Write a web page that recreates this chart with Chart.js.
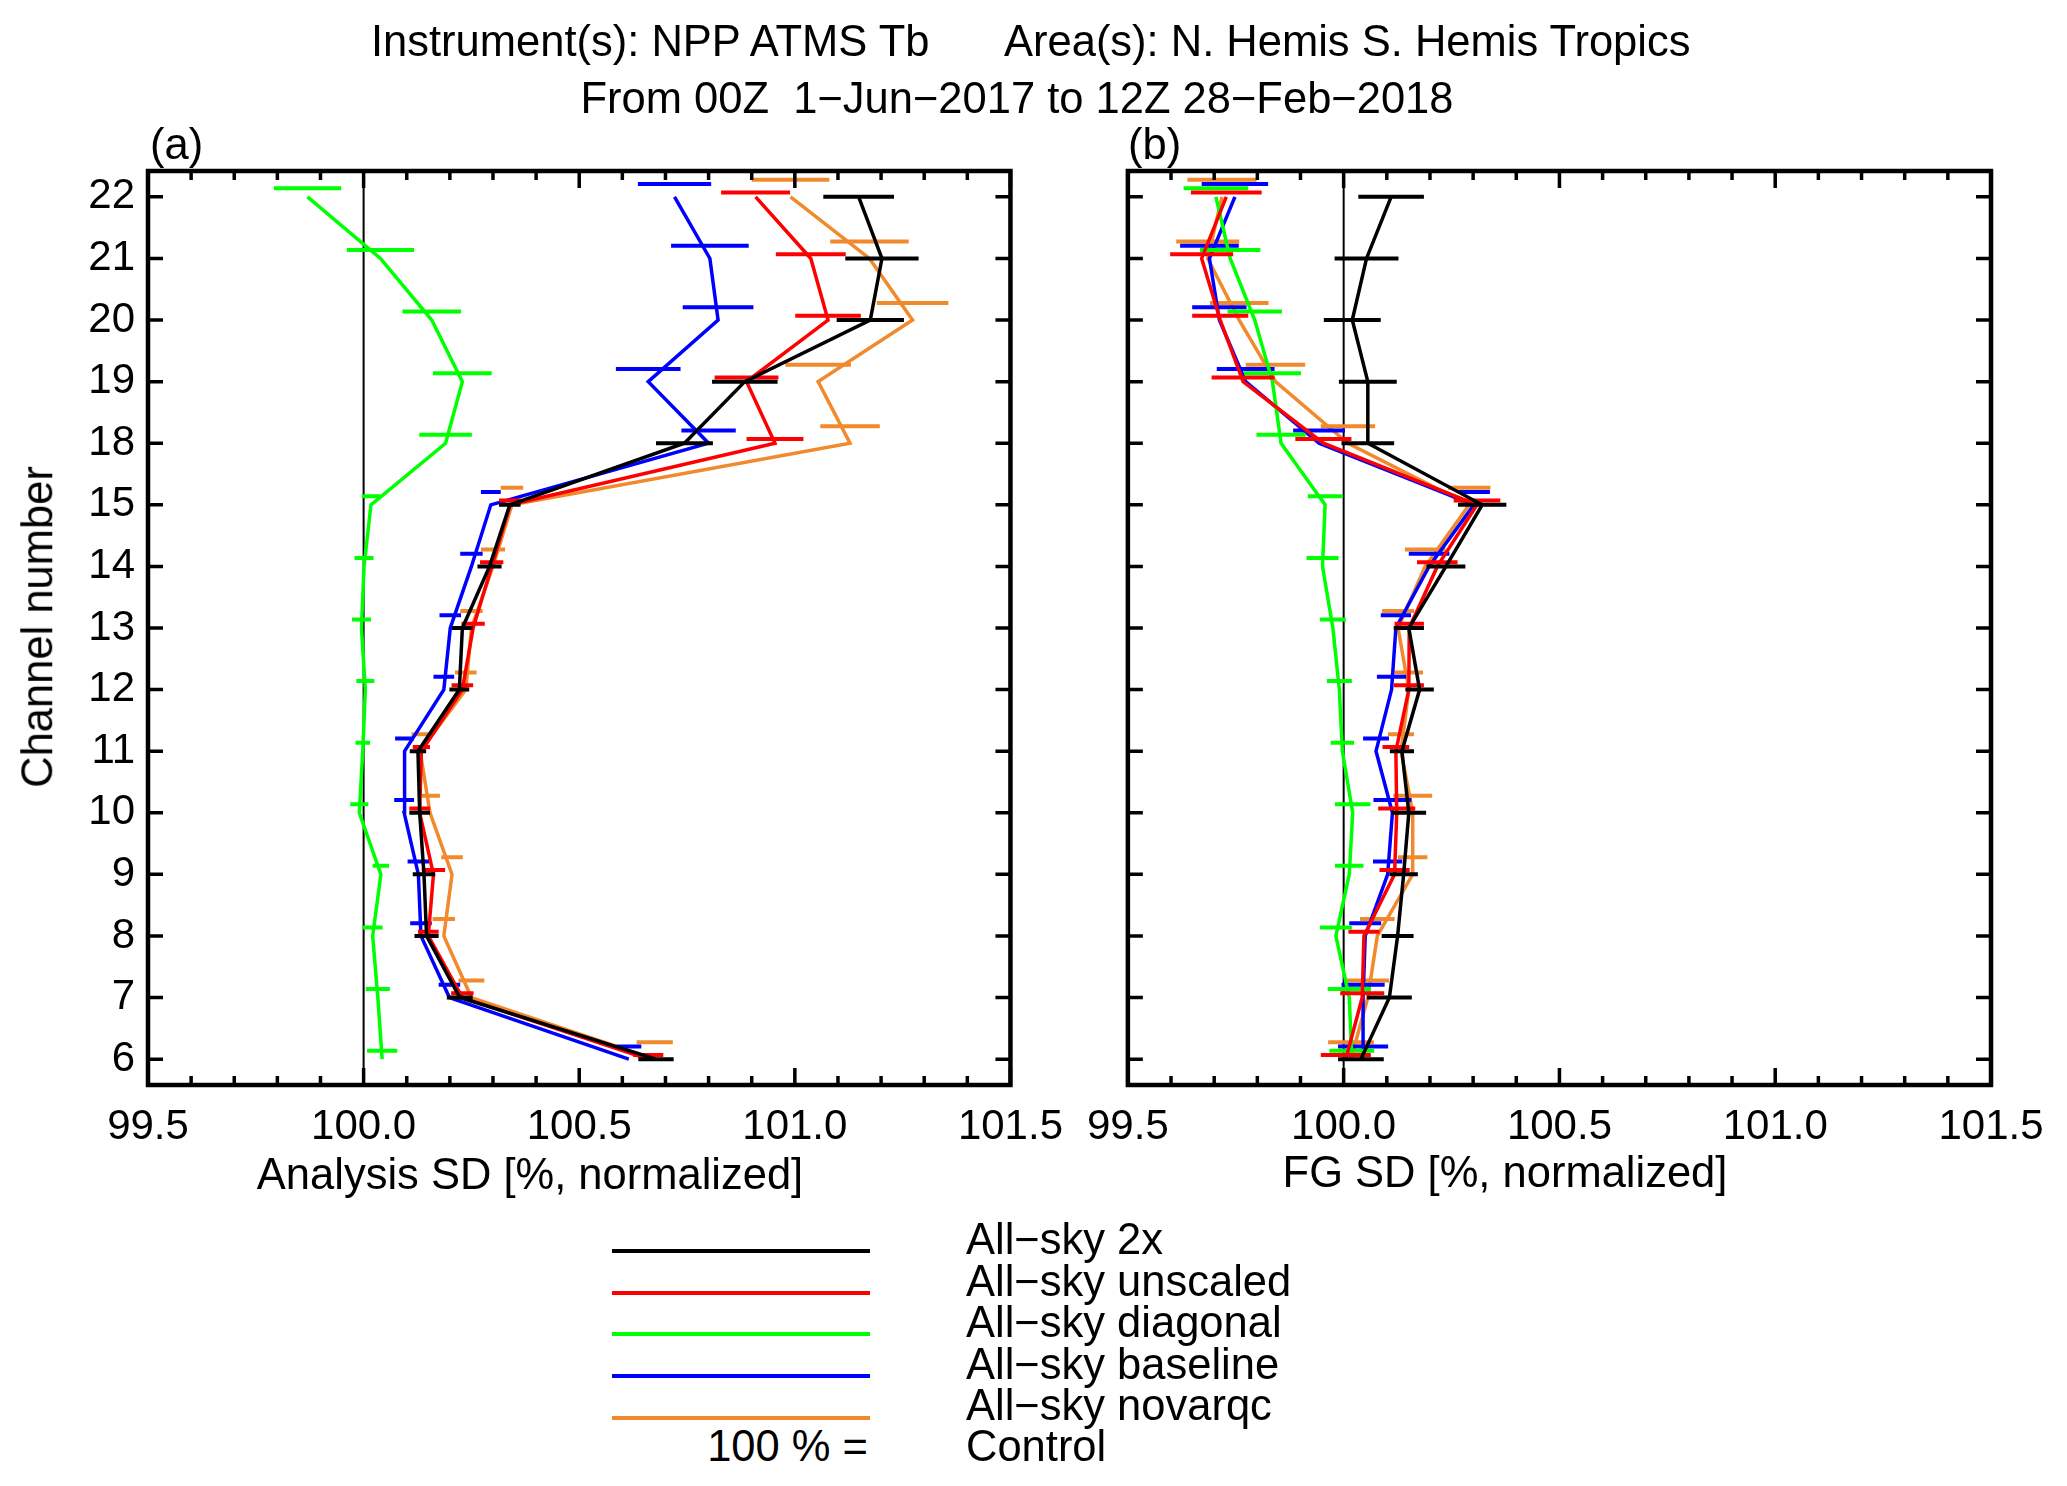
<!DOCTYPE html>
<html>
<head>
<meta charset="utf-8">
<script src="https://cdn.jsdelivr.net/npm/chart.js@4.4.1/dist/chart.umd.min.js"></script>
<style>
  body { margin: 0; background: #fff; width: 2067px; height: 1486px; position: relative; overflow: hidden;
         font-family: "Liberation Sans", Arial, sans-serif; }
  canvas { position: absolute; top: 0; }
  .t { position: absolute; font-size: 43.5px; color: #000; white-space: pre; line-height: 1; }
  .ln { position: absolute; height: 4px; }
</style>
</head>
<body>
<canvas id="pa" width="1080" height="1230" style="left:0px"></canvas>
<canvas id="pb" width="997" height="1230" style="left:1070px"></canvas>
<script>
// channels on the y axis (equally spaced)
const channels = ['6', '7', '8', '9', '10', '11', '12', '13', '14', '15', '18', '19', '20', '21', '22'];

// legend / series
const names = ['All\u2212sky 2x', 'All\u2212sky unscaled', 'All\u2212sky diagonal', 'All\u2212sky baseline', 'All\u2212sky novarqc'];
const colors = ['#000000', '#ff0000', '#00ff00', '#0000ff', '#f08a2c'];

// (a) Analysis SD, channels 6..22
const ana2x       = [100.678, 100.223, 100.146, 100.140, 100.130, 100.126, 100.222, 100.229, 100.292, 100.339, 100.744, 100.884, 101.175, 101.202, 101.148];
const ana2xErr    = [0.041, 0.030, 0.028, 0.026, 0.024, 0.019, 0.023, 0.024, 0.028, 0.025, 0.066, 0.076, 0.078, 0.085, 0.082];
const anaUnsc     = [100.660, 100.229, 100.150, 100.162, 100.130, 100.134, 100.229, 100.254, 100.297, 100.340, 100.954, 100.888, 101.077, 101.037, 100.909];
const anaUnscErr  = [0.035, 0.026, 0.024, 0.027, 0.024, 0.020, 0.025, 0.027, 0.027, 0.026, 0.066, 0.074, 0.076, 0.081, 0.080];
const anaDiag     = [100.043, 100.033, 100.021, 100.040, 99.990, 99.998, 100.004, 99.995, 100.001, 100.017, 100.190, 100.229, 100.158, 100.039, 99.870];
const anaDiagErr  = [0.035, 0.028, 0.023, 0.019, 0.021, 0.017, 0.021, 0.022, 0.022, 0.021, 0.061, 0.068, 0.068, 0.078, 0.078];
const anaBase     = [100.615, 100.199, 100.133, 100.127, 100.094, 100.095, 100.186, 100.201, 100.250, 100.295, 100.800, 100.660, 100.822, 100.803, 100.721];
const anaBaseErr  = [0.029, 0.025, 0.025, 0.025, 0.023, 0.022, 0.024, 0.025, 0.026, 0.023, 0.063, 0.075, 0.082, 0.090, 0.085];
const anaNoqc     = [100.675, 100.250, 100.186, 100.205, 100.154, 100.131, 100.237, 100.250, 100.300, 100.344, 101.128, 101.054, 101.273, 101.173, 100.990];
const anaNoqcErr  = [0.042, 0.030, 0.026, 0.025, 0.023, 0.020, 0.025, 0.026, 0.028, 0.026, 0.069, 0.076, 0.083, 0.091, 0.090];

// (b) FG SD, channels 6..22
const fg2x        = [100.040, 100.106, 100.125, 100.139, 100.151, 100.135, 100.176, 100.151, 100.237, 100.321, 100.056, 100.056, 100.020, 100.053, 100.110];
const fg2xErr     = [0.053, 0.052, 0.037, 0.033, 0.040, 0.028, 0.033, 0.035, 0.045, 0.056, 0.061, 0.067, 0.066, 0.074, 0.076];
const fgUnsc      = [100.005, 100.043, 100.047, 100.118, 100.123, 100.121, 100.151, 100.152, 100.217, 100.309, 99.953, 99.767, 99.714, 99.671, 99.728];
const fgUnscErr   = [0.058, 0.051, 0.036, 0.035, 0.043, 0.031, 0.035, 0.034, 0.047, 0.054, 0.065, 0.073, 0.065, 0.073, 0.082];
const fgDiag      = [100.019, 100.013, 99.982, 100.013, 100.021, 99.997, 99.990, 99.975, 99.951, 99.957, 99.855, 99.835, 99.794, 99.737, 99.704];
const fgDiagErr   = [0.052, 0.050, 0.037, 0.033, 0.041, 0.027, 0.029, 0.030, 0.037, 0.040, 0.057, 0.066, 0.063, 0.070, 0.075];
const fgBase      = [100.045, 100.045, 100.050, 100.102, 100.113, 100.075, 100.111, 100.121, 100.198, 100.302, 99.943, 99.773, 99.712, 99.689, 99.748];
const fgBaseErr   = [0.058, 0.050, 0.037, 0.034, 0.044, 0.030, 0.034, 0.035, 0.047, 0.037, 0.060, 0.067, 0.063, 0.068, 0.077];
const fgNoqc      = [100.017, 100.056, 100.078, 100.160, 100.160, 100.133, 100.151, 100.126, 100.189, 100.291, 100.010, 99.842, 99.758, 99.685, 99.718];
const fgNoqcErr   = [0.053, 0.049, 0.040, 0.034, 0.045, 0.030, 0.033, 0.037, 0.047, 0.049, 0.063, 0.069, 0.068, 0.073, 0.080];

const xTicks = [99.5, 100.0, 100.5, 101.0, 101.5];

const FONT = '"Liberation Sans", Arial, sans-serif';
const barShift = 0.069;   // error bars of each experiment are drawn slightly above the channel

// frame, inward ticks and the 100 % line
const framePlugin = {
  id: 'frame',
  beforeDatasetsDraw(chart) {
    const { ctx, chartArea: a, scales: { x } } = chart;
    const px = x.getPixelForValue(100);
    ctx.save();
    ctx.strokeStyle = '#000';
    ctx.lineWidth = 2;
    ctx.beginPath();
    ctx.moveTo(px, a.top);
    ctx.lineTo(px, a.bottom);
    ctx.stroke();
    ctx.restore();
  },
  afterDatasetsDraw(chart) {
    const { ctx, chartArea: a, scales: { x, y } } = chart;
    ctx.save();
    ctx.strokeStyle = '#000';
    ctx.lineWidth = 3.5;
    ctx.beginPath();
    for (let k = 0; k <= 20; k++) {
      const px = x.getPixelForValue(xTicks[0] + k * 0.1);
      const len = k % 5 === 0 ? 17 : 9;
      ctx.moveTo(px, a.top); ctx.lineTo(px, a.top + len);
      ctx.moveTo(px, a.bottom); ctx.lineTo(px, a.bottom - len);
    }
    y.ticks.forEach(t => {
      const py = y.getPixelForValue(t.value);
      ctx.moveTo(a.left, py); ctx.lineTo(a.left + 15, py);
      ctx.moveTo(a.right, py); ctx.lineTo(a.right - 15, py);
    });
    ctx.stroke();
    ctx.lineWidth = 4.5;
    ctx.strokeRect(a.left, a.top, a.right - a.left, a.bottom - a.top);
    ctx.restore();
  }
};

function makeChart(id, vals, errs, showY, pad, yWidth) {
  const datasets = [];
  vals.forEach((v, k) => {
    datasets.push({
      data: v.map((val, i) => ({ x: val, y: i })),
      borderColor: colors[k], borderWidth: 3.5, showLine: true, pointRadius: 0
    });
    const bars = [];
    v.forEach((val, i) => {
      const yy = i + k * barShift;
      bars.push({ x: val - errs[k][i], y: yy }, { x: val + errs[k][i], y: yy }, { x: null, y: null });
    });
    datasets.push({
      data: bars, borderColor: colors[k], borderWidth: 4, showLine: true, pointRadius: 0, spanGaps: false
    });
  });

  return new Chart(document.getElementById(id), {
    type: 'scatter',
    data: { datasets },
    plugins: [framePlugin],
    options: {
      responsive: false, animation: false, devicePixelRatio: 1,
      layout: { padding: pad },
      plugins: { legend: { display: false }, tooltip: { enabled: false } },
      elements: { line: { tension: 0, borderCapStyle: 'butt' } },
      scales: {
        x: {
          type: 'linear', min: xTicks[0], max: xTicks[xTicks.length - 1],
          grid: { display: false, drawTicks: false }, border: { display: false },
          afterBuildTicks: s => { s.ticks = xTicks.map(v => ({ value: v })); },
          ticks: { padding: 17, color: '#000', font: { family: FONT, size: 42 }, maxRotation: 0, autoSkip: false,
                   callback: v => Number(v).toFixed(1) },
          afterFit: s => { s.height = 145; }
        },
        y: {
          type: 'linear', min: -0.42, max: channels.length - 1 + 0.42,
          grid: { display: false, drawTicks: false }, border: { display: false },
          afterBuildTicks: s => { s.ticks = channels.map((c, i) => ({ value: i })); },
          ticks: { display: showY, padding: 13, color: '#000', font: { family: FONT, size: 42 }, autoSkip: false,
                   callback: v => channels[v] },
          afterFit: s => { s.width = yWidth; }
        }
      }
    }
  });
}

makeChart('pa',
  [ana2x, anaUnsc, anaDiag, anaBase, anaNoqc],
  [ana2xErr, anaUnscErr, anaDiagErr, anaBaseErr, anaNoqcErr],
  true, { top: 171, right: 68, bottom: 0, left: 0 }, 148);

makeChart('pb',
  [fg2x, fgUnsc, fgDiag, fgBase, fgNoqc],
  [fg2xErr, fgUnscErr, fgDiagErr, fgBaseErr, fgNoqcErr],
  false, { top: 171, right: 76, bottom: 0, left: 0 }, 55);

// texts
function txt(s, x, y, align, rot) {
  const d = document.createElement('div');
  d.className = 't';
  d.textContent = s;
  d.style.left = x + 'px';
  d.style.top = y + 'px';
  const tx = align === 'center' ? '-50%' : align === 'right' ? '-100%' : '0';
  d.style.transform = `translate(${tx},-50%)` + (rot ? ` rotate(${rot}deg)` : '');
  document.body.appendChild(d);
  return d;
}
txt('Instrument(s): NPP ATMS Tb', 371, 42, 'left');
txt('Area(s): N. Hemis S. Hemis Tropics', 1004, 42, 'left');
txt('From 00Z  1\u2212Jun\u22122017 to 12Z 28\u2212Feb\u22122018', 1017, 99, 'center');
txt('(a)', 150, 145, 'left');
txt('(b)', 1128, 145, 'left');
txt('Analysis SD [%, normalized]', 530, 1175, 'center');
txt('FG SD [%, normalized]', 1505, 1173, 'center');
txt('Channel number', 38, 627, 'center', -90);

// legend
names.forEach((n, k) => {
  const l = document.createElement('div');
  l.className = 'ln';
  l.style.left = '612px';
  l.style.width = '258px';
  l.style.top = (1249 + k * 41.7) + 'px';
  l.style.background = colors[k];
  document.body.appendChild(l);
  txt(n, 966, 1240 + k * 41.5, 'left');
});
txt('100 % =', 868, 1447, 'right');
txt('Control', 966, 1447, 'left');
</script>
</body>
</html>
